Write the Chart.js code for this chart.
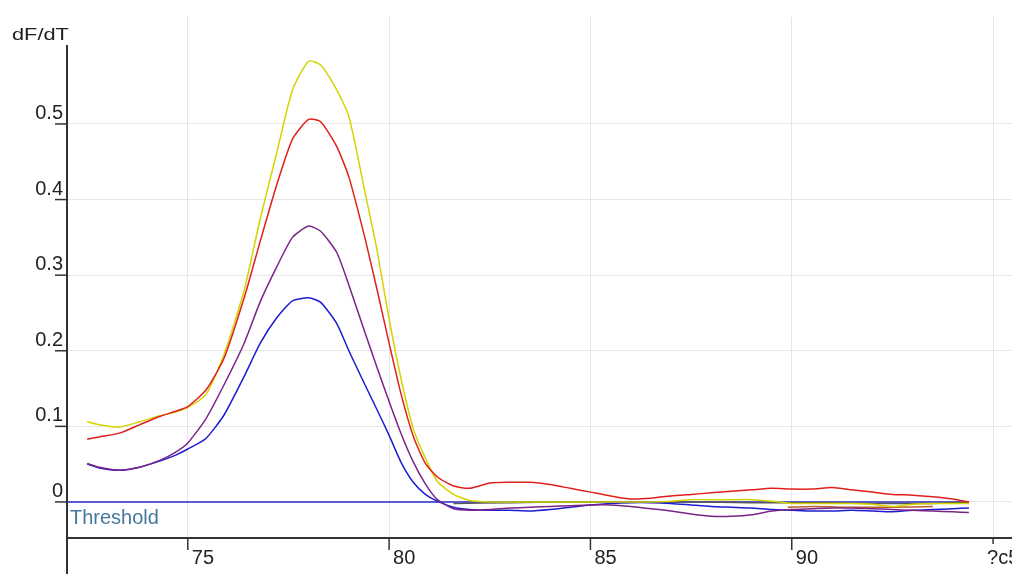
<!DOCTYPE html>
<html>
<head>
<meta charset="utf-8">
<script src="https://cdn.jsdelivr.net/npm/chart.js@4.4.0/dist/chart.umd.min.js"></script>
<style>
  html, body { margin: 0; padding: 0; background: #fff; }
  #wrap { width: 1012px; height: 574px; }
</style>
</head>
<body>
<div id="wrap"><canvas id="myChart" width="1012" height="574"></canvas></div>
<script>
// melt curve data (temperature in degrees, dF/dT)
const temps = [72.5, 72.8, 73.3, 73.8, 74.3, 74.7, 75.0, 75.45, 75.9, 76.4,
    76.8, 77.2, 77.6, 78.0, 78.3, 78.7, 79.0, 79.4, 79.7, 80.0,
    80.3, 80.6, 80.9, 81.2, 81.6, 82.0, 82.5, 83.0, 83.5, 84.0,
    84.5, 85.0, 85.5, 86.0, 86.5, 87.0, 87.5, 88.0, 88.5, 89.0,
    89.5, 90.0, 90.5, 91.0, 91.5, 92.0, 92.5, 93.0, 93.5, 94.0, 94.4];

const yellowVals = [0.106, 0.102, 0.099, 0.106, 0.114, 0.119, 0.125, 0.142, 0.195, 0.28,
    0.375, 0.46, 0.545, 0.583, 0.578, 0.545, 0.51, 0.41, 0.333, 0.242,
    0.162, 0.097, 0.058, 0.027, 0.01, 0.002, 0, 0, 0, 0,
    0, 0, 0, 0, 0, 0.001, 0.003, 0.003, 0.003, 0.003,
    0.001, -0.002, -0.002, -0.002, -0.002, -0.003, -0.006, -0.003, -0.002, -0.002, -0.002];

const redVals = [0.083, 0.086, 0.091, 0.102, 0.113, 0.12, 0.126, 0.148, 0.19, 0.27,
    0.345, 0.418, 0.48, 0.506, 0.503, 0.47, 0.43, 0.349, 0.281, 0.21,
    0.142, 0.087, 0.051, 0.033, 0.021, 0.018, 0.025, 0.026, 0.026, 0.023,
    0.018, 0.013, 0.008, 0.004, 0.005, 0.008, 0.010, 0.012, 0.014, 0.016,
    0.018, 0.017, 0.017, 0.019, 0.016, 0.013, 0.010, 0.009, 0.007, 0.004, 0.0];

const purpleVals = [0.051, 0.046, 0.042, 0.046, 0.055, 0.066, 0.078, 0.11, 0.155, 0.21,
    0.265, 0.31, 0.35, 0.365, 0.358, 0.33, 0.287, 0.224, 0.178, 0.133,
    0.09, 0.053, 0.024, 0.003, -0.009, -0.011, -0.010, -0.008, -0.007, -0.006,
    -0.005, -0.004, -0.004, -0.006, -0.009, -0.012, -0.016, -0.019, -0.019, -0.017,
    -0.012, -0.010, -0.009, -0.008, -0.008, -0.009, -0.010, -0.011, -0.012, -0.013, -0.014];

const blueVals = [0.050, 0.045, 0.042, 0.046, 0.054, 0.062, 0.07, 0.084, 0.115, 0.166,
    0.21, 0.243, 0.266, 0.27, 0.264, 0.236, 0.2, 0.155, 0.122, 0.088,
    0.052, 0.026, 0.01, 0.001, -0.007, -0.010, -0.011, -0.011, -0.012, -0.010,
    -0.007, -0.004, -0.002, -0.001, -0.001, -0.002, -0.004, -0.006, -0.007, -0.008,
    -0.010, -0.011, -0.012, -0.012, -0.011, -0.012, -0.013, -0.011, -0.010, -0.009, -0.008];

// flat traces that only show up near zero
const grayTemps = [81.6, 83.0, 84.5, 86.0, 87.5, 89.0, 90.5, 92.0, 93.5, 94.4];
const grayVals = [-0.002, -0.001, 0.0, 0.0, 0.0, -0.001, -0.001, -0.002, -0.002, 0.0];
const orangeTemps = [89.9, 90.5, 91.5, 92.5, 93.5];
const orangeVals = [-0.007, -0.006, -0.007, -0.007, -0.006];

const thresholdTemps = [72.0, 94.4];
const thresholdVals = [0, 0];

// axes
const xTicks = [75, 80, 85, 90, 95];
const xTickLabels = ['75', '80', '85', '90', '?c5'];
const yTicks = [0, 0.1, 0.2, 0.3, 0.4, 0.5];
const yTickLabels = ['0', '0.1', '0.2', '0.3', '0.4', '0.5'];
const yTitle = 'dF/dT';
const thresholdLabel = 'Threshold';

function pts(xs, ys) {
    return xs.map((x, i) => ({ x: x, y: ys[i] }));
}

function line(data, color) {
    return {
        data: data,
        borderColor: color,
        borderWidth: 1.5,
        pointRadius: 0,
        tension: 0.2,
        fill: false
    };
}

const axisPlugin = {
    id: 'oldAxes',
    afterDraw(chart) {
        const ctx = chart.ctx;
        const xs = chart.scales.x;
        const ys = chart.scales.y;
        const area = chart.chartArea;
        const x0 = xs.getPixelForValue(72.0);
        const yBase = area.bottom;

        ctx.save();
        ctx.strokeStyle = '#333';
        ctx.lineWidth = 2;
        ctx.beginPath();
        ctx.moveTo(x0, 45);
        ctx.lineTo(x0, chart.height);
        ctx.moveTo(x0, yBase);
        ctx.lineTo(chart.width, yBase);
        ctx.stroke();

        ctx.fillStyle = '#222';
        ctx.font = '20px "Liberation Sans", Arial, sans-serif';
        ctx.textBaseline = 'alphabetic';

        // y ticks
        ctx.lineWidth = 1.5;
        yTicks.forEach((v, i) => {
            const py = ys.getPixelForValue(v);
            ctx.beginPath();
            ctx.moveTo(x0 - 12, py);
            ctx.lineTo(x0, py);
            ctx.stroke();
            ctx.textAlign = 'right';
            ctx.fillText(yTickLabels[i], x0 - 4, py - 5);
        });

        // x ticks
        xTicks.forEach((v, i) => {
            const px = xs.getPixelForValue(v);
            ctx.beginPath();
            ctx.moveTo(px, yBase);
            ctx.lineTo(px, yBase + (i === xTicks.length - 1 ? 6 : 12));
            ctx.stroke();
            ctx.textAlign = 'left';
            const off = i === xTicks.length - 1 ? -6 : 4;
            ctx.fillText(xTickLabels[i], px + off, yBase + 26);
        });

        // axis title, a bit stretched like the original bitmap font
        ctx.save();
        ctx.translate(12, 40);
        ctx.scale(1.28, 1);
        ctx.font = '17px "Liberation Sans", Arial, sans-serif';
        ctx.textAlign = 'left';
        ctx.fillText(yTitle, 0, 0);
        ctx.restore();

        // threshold label
        ctx.fillStyle = '#44789c';
        ctx.font = '20px "Liberation Sans", Arial, sans-serif';
        ctx.textAlign = 'left';
        ctx.fillText(thresholdLabel, x0 + 3, ys.getPixelForValue(0) + 22);
        ctx.restore();
    }
};

const bgPlugin = {
    id: 'bg',
    beforeDraw(chart) {
        const ctx = chart.ctx;
        ctx.save();
        ctx.fillStyle = '#fff';
        ctx.fillRect(0, 0, chart.width, chart.height);
        ctx.restore();
    }
};

new Chart(document.getElementById('myChart'), {
    type: 'line',
    data: {
        datasets: [
            line(pts(temps, redVals), '#e0201c'),
            line(pts(temps, yellowVals), '#d4d400'),
            line(pts(temps, purpleVals), '#7a2488'),
            line(pts(temps, blueVals), '#1c1cd0'),
            line(pts(grayTemps, grayVals), '#55555f'),
            line(pts(orangeTemps, orangeVals), '#b8602a'),
            line(pts(thresholdTemps, thresholdVals), '#2a2ac8')
        ]
    },
    options: {
        responsive: false,
        animation: false,
        devicePixelRatio: 1,
        layout: { padding: { left: 67, top: 17, right: 0, bottom: 36 } },
        plugins: {
            legend: { display: false },
            tooltip: { enabled: false },
            title: { display: false }
        },
        scales: {
            x: {
                type: 'linear',
                min: 72.0,
                max: 95.47,
                afterBuildTicks: s => { s.ticks = xTicks.map(v => ({ value: v })); },
                ticks: { display: false },
                border: { display: false },
                grid: { color: '#e6e6e6', lineWidth: 1, drawTicks: false }
            },
            y: {
                type: 'linear',
                min: -0.0477,
                max: 0.6415,
                afterBuildTicks: s => { s.ticks = yTicks.map(v => ({ value: v })); },
                ticks: { display: false },
                border: { display: false },
                grid: { color: '#e6e6e6', lineWidth: 1, drawTicks: false }
            }
        }
    },
    plugins: [bgPlugin, axisPlugin]
});
</script>
</body>
</html>
